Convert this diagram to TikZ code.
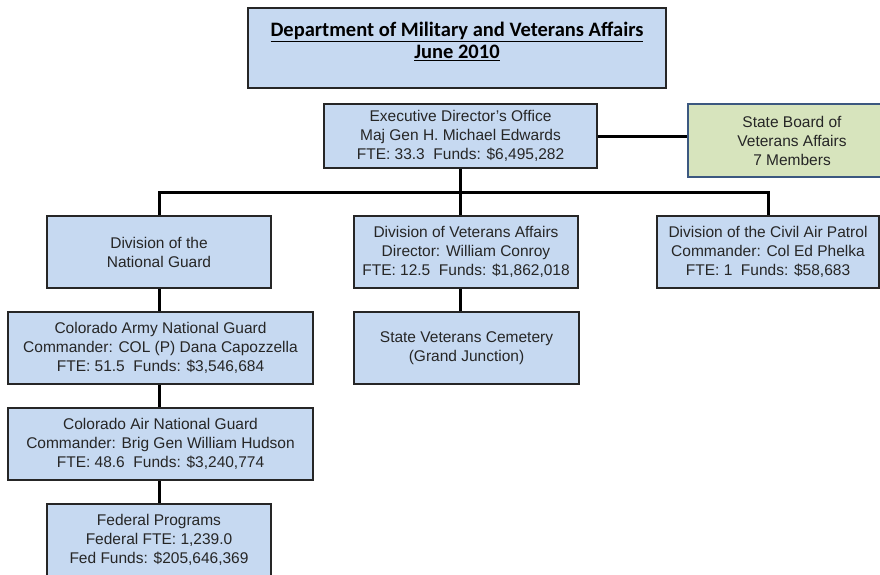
\documentclass[tikz,border=0pt]{standalone}
\usepackage{fontspec}
\setmainfont{Liberation Sans}
\newfontfamily\titlefont{Carlito}
\usetikzlibrary{positioning}

\definecolor{boxblue}{RGB}{198,217,241}
\definecolor{boxgreen}{RGB}{215,228,189}
\definecolor{boardline}{RGB}{60,88,128}

\begin{document}
\begin{tikzpicture}[x=1pt, y=-1pt,
    unit/.style={draw=black!85, line width=1.5pt, fill=boxblue, align=center, inner sep=0pt,
        text=black!85, font=\fontsize{15.5}{19}\selectfont},
    link/.style={line width=3pt}]
    \useasboundingbox (0,0) rectangle (880,575);

    % Title
    \node[unit, line width=2pt, minimum width=418pt, minimum height=80pt] (title) at (457,48) {};
    \node[below=12pt of title.north, align=center, text=black,
        font=\titlefont\bfseries\fontsize{20.5}{22}\selectfont] (heading)
        {\underline{Department of Military and Veterans Affairs}\\\underline{June 2010}};

    % Top level
    \node[unit, minimum width=273pt, minimum height=64pt] (exec) at (460.5,136)
        {Executive Director's Office\\Maj Gen H. Michael Edwards\\FTE: 33.3~~Funds: \$6,495,282};
    \node[unit, draw=boardline, fill=boxgreen, minimum width=208pt, minimum height=73pt] (board) at (792,140.5)
        {State Board of\\Veterans Affairs\\7 Members};

    % Divisions
    \node[unit, minimum width=224pt, minimum height=72pt] (ng) at (159,252)
        {Division of the\\National Guard};
    \node[unit, minimum width=224pt, minimum height=72pt] (va) at (466,252)
        {Division of Veterans Affairs\\Director: William Conroy\\FTE: 12.5~~Funds: \$1,862,018};
    \node[unit, minimum width=222pt, minimum height=72pt] (cap) at (768,252)
        {Division of the Civil Air Patrol\\Commander: Col Ed Phelka\\FTE: 1~~Funds: \$58,683};

    % Units below the divisions
    \node[unit, minimum width=305pt, minimum height=72pt] (army) at (160.5,348)
        {Colorado Army National Guard\\Commander: COL (P) Dana Capozzella\\FTE: 51.5~~Funds: \$3,546,684};
    \node[unit, minimum width=225pt, minimum height=72pt] (cem) at (466.5,348)
        {State Veterans Cemetery\\(Grand Junction)};
    \node[unit, minimum width=305pt, minimum height=72pt] (air) at (160.5,444)
        {Colorado Air National Guard\\Commander: Brig Gen William Hudson\\FTE: 48.6~~Funds: \$3,240,774};
    \node[unit, minimum width=224pt, minimum height=72pt] (fed) at (159,540)
        {Federal Programs\\Federal FTE: 1,239.0\\Fed Funds: \$205,646,369};

    % Connectors
    \coordinate (bar) at (460,192);
    \draw[link] (exec.east) -- (exec.east -| board.west);
    \draw[link] (exec.south -| bar) -- (bar) -- (bar |- va.north);
    \draw[link] (ng.north) |- (bar) -| (cap.north);
    \draw[link] (bar |- va.south) -- (bar |- cem.north);
    \draw[link] (ng.south) -- (ng.south |- army.north);
    \draw[link] (ng.south |- army.south) -- (ng.south |- air.north);
    \draw[link] (ng.south |- air.south) -- (ng.south |- fed.north);
\end{tikzpicture}
\end{document}
